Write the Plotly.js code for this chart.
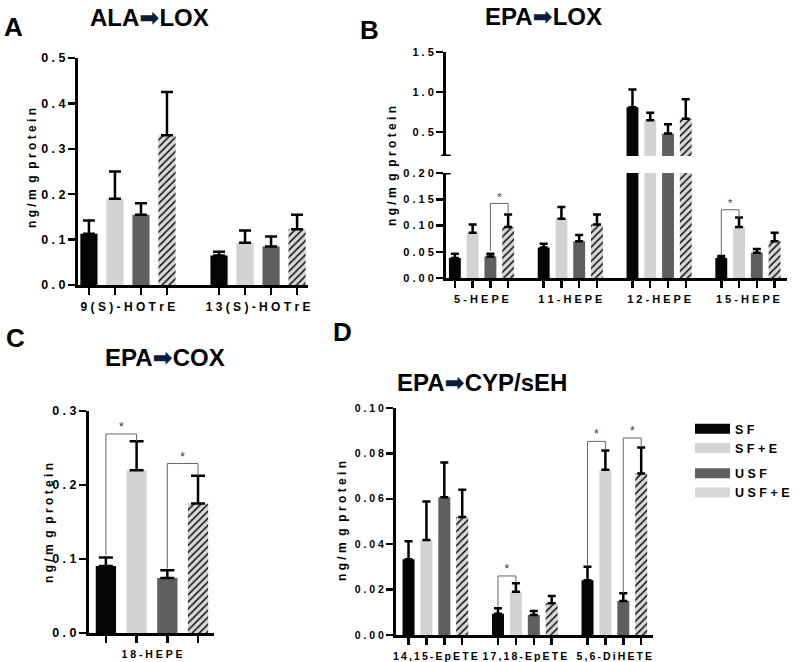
<!DOCTYPE html>
<html><head><meta charset="utf-8">
<script src="https://cdn.plot.ly/plotly-3.0.1.min.js"></script>
<style>html,body{margin:0;padding:0;background:#fff}#chart{width:800px;height:662px}</style>
</head><body><div id="chart"></div>
<script>
// ---------- DATA ----------
const seriesNames = ['SF', 'SF+E', 'USF', 'USF+E'];

// Panel A: ALA -> LOX
const aCats = ['9(S)-HOTrE', '13(S)-HOTrE'];
const aSF = [0.113, 0.065],   aSFtop = [0.142, 0.073];
const aSFE = [0.190, 0.093],  aSFEtop = [0.250, 0.120];
const aUSF = [0.155, 0.085],  aUSFtop = [0.180, 0.107];
const aUSFE = [0.330, 0.123], aUSFEtop = [0.425, 0.155];
const aTickVals = [0, 0.1, 0.2, 0.3, 0.4, 0.5];
const aTickText = ['0.0', '0.1', '0.2', '0.3', '0.4', '0.5'];

// Panel B: EPA -> LOX (broken axis)
const bCats = ['5-HEPE', '11-HEPE', '12-HEPE', '15-HEPE'];
const bSF = [0.038, 0.058, 0.810, 0.038],   bSFtop = [0.046, 0.065, 1.030, 0.042];
const bSFE = [0.086, 0.113, 0.646, 0.097],  bSFEtop = [0.102, 0.135, 0.740, 0.115];
const bUSF = [0.041, 0.070, 0.480, 0.048],  bUSFtop = [0.046, 0.082, 0.596, 0.055];
const bUSFE = [0.097, 0.102, 0.667, 0.070], bUSFEtop = [0.121, 0.121, 0.908, 0.086];
const bLowTickVals = [0, 0.05, 0.10, 0.15, 0.20];
const bLowTickText = ['0.00', '0.05', '0.10', '0.15', '0.20'];
const bHighTickVals = [0.5, 1.0, 1.5];
const bHighTickText = ['0.5', '1.0', '1.5'];

// Panel C: EPA -> COX
const cCats = ['18-HEPE'];
const cSF = [0.0905], cSFtop = [0.102];
const cSFE = [0.220], cSFEtop = [0.259];
const cUSF = [0.0743], cUSFtop = [0.0847];
const cUSFE = [0.175], cUSFEtop = [0.2126];
const cTickVals = [0, 0.1, 0.2, 0.3];
const cTickText = ['0.0', '0.1', '0.2', '0.3'];

// Panel D: EPA -> CYP/sEH
const dCats = ['14,15-EpETE', '17,18-EpETE', '5,6-DiHETE'];
const dSF = [0.0334, 0.0094, 0.0241],   dSFtop = [0.0413, 0.0118, 0.0301];
const dSFE = [0.0419, 0.0191, 0.0728],  dSFEtop = [0.0588, 0.0228, 0.0813];
const dUSF = [0.0607, 0.0088, 0.0150],  dUSFtop = [0.0760, 0.0106, 0.0184];
const dUSFE = [0.0520, 0.0140, 0.0712], dUSFEtop = [0.0640, 0.0172, 0.0826];
const dTickVals = [0, 0.02, 0.04, 0.06, 0.08, 0.10];
const dTickText = ['0.00', '0.02', '0.04', '0.06', '0.08', '0.10'];

// Significance brackets: group index, from series, to series, bracket top, left end, right end
const bSigGroup = [0, 3], bSigFrom = [2, 0], bSigTo = [3, 1];
const bSigTop = [0.142, 0.130], bSigLeft = [0.052, 0.044], bSigRight = [0.121, 0.115];
const cSigGroup = [0, 0], cSigFrom = [0, 2], cSigTo = [1, 3];
const cSigTop = [0.269, 0.229], cSigLeft = [0.105, 0.087], cSigRight = [0.259, 0.2126];
const dSigGroup = [1, 2, 2], dSigFrom = [0, 0, 2], dSigTo = [1, 1, 3];
const dSigTop = [0.026, 0.0853, 0.0868], dSigLeft = [0.0125, 0.0302, 0.0185], dSigRight = [0.0228, 0.0813, 0.0826];

// ---------- STYLE ----------
const FONT = 'Liberation Sans, Arial, Helvetica, sans-serif';
const colors = ['#050505', '#d3d3d3', '#5f5f5f', '#d8d8d8'];
const W = 800, H = 662;
const px = v => v / W;
const py = v => 1 - v / H;
const NB = '\u00a0';
const spaced = (s, sep) => s.split('').join(sep === undefined ? ' ' : sep);
const GROUP_STEP = 5;

const traces = [];
const layout = {
  width: W, height: H,
  margin: {l: 0, r: 0, t: 0, b: 0},
  paper_bgcolor: '#fff', plot_bgcolor: 'rgba(0,0,0,0)',
  barmode: 'overlay',
  showlegend: true,
  font: {family: FONT, color: '#000'},
  annotations: [], shapes: [],
  legend: {
    x: px(690), y: py(414), xanchor: 'left', yanchor: 'top',
    font: {family: FONT, size: 12.5, weight: 'bold', color: '#000'},
    tracegroupgap: 6, traceorder: 'grouped', bgcolor: 'rgba(0,0,0,0)',
    itemwidth: 35
  }
};

function xAxisCfg(domain, range, anchor, cats, nSeries, labelSize, sep) {
  const centers = cats.map((c, g) => g * GROUP_STEP + (nSeries - 1) / 2);
  const minorVals = [];
  cats.forEach((c, g) => { for (let s = 0; s < nSeries; s++) minorVals.push(g * GROUP_STEP + s); });
  return {
    domain: domain, range: range, anchor: anchor,
    showline: true, linewidth: 3, linecolor: '#000',
    showgrid: false, zeroline: false, fixedrange: true,
    tickmode: 'array', tickvals: centers, ticktext: cats.map(c => spaced(c, sep)),
    ticks: '', ticklabelstandoff: 9,
    tickfont: {family: FONT, size: labelSize, weight: 'bold', color: '#000'},
    minor: {tickmode: 'array', tickvals: minorVals, ticks: 'outside', ticklen: 7, tickwidth: 2.5, tickcolor: '#000', showgrid: false}
  };
}
function yAxisCfg(domain, range, anchor, vals, text, size) {
  return {
    domain: domain, range: range, anchor: anchor,
    showline: true, linewidth: 3, linecolor: '#000',
    showgrid: false, zeroline: false, fixedrange: true,
    tickmode: 'array', tickvals: vals, ticktext: text.map(t => spaced(t)),
    ticks: 'outside', ticklen: 7, tickwidth: 2.5, tickcolor: '#000',
    tickfont: {family: FONT, size: size, weight: 'bold', color: '#000'}
  };
}

function addBars(cats, vals, tops, xa, yas, bw, cap, hatch) {
  for (let s = 0; s < 4; s++) {
    yas.forEach(ya => {
      const marker = {color: colors[s], line: {width: 0}};
      if (s === 3) marker.pattern = {shape: '/', bgcolor: colors[3], fgcolor: '#111', size: hatch, solidity: 0.3};
      traces.push({
        type: 'bar', name: seriesNames[s], showlegend: false, hoverinfo: 'skip',
        x: cats.map((c, g) => g * GROUP_STEP + s), y: vals[s], width: bw,
        xaxis: xa, yaxis: ya, marker: marker,
        error_y: {type: 'data', symmetric: false,
          array: vals[s].map((v, i) => tops[s][i] - v), arrayminus: vals[s].map(() => 0),
          color: '#000', thickness: 2.5, width: cap}
      });
    });
  }
}
function addSig(groups, from, to, top, left, right, xa, ya, starSize) {
  groups.forEach((g, i) => {
    const xl = g * GROUP_STEP + from[i], xr = g * GROUP_STEP + to[i];
    traces.push({type: 'scatter', mode: 'lines', showlegend: false, hoverinfo: 'skip',
      x: [xl, xl, xr, xr], y: [left[i], top[i], top[i], right[i]],
      line: {color: '#666', width: 1}, xaxis: xa, yaxis: ya, cliponaxis: false});
    traces.push({type: 'scatter', mode: 'text', showlegend: false, hoverinfo: 'skip',
      x: [(xl + xr) / 2], y: [top[i]], text: ['*'], textposition: 'top center',
      textfont: {family: FONT, size: starSize, color: '#333'}, xaxis: xa, yaxis: ya, cliponaxis: false});
  });
}

// Panel A
layout.xaxis = xAxisCfg([px(78), px(308)], [-0.42, 8.42], 'y', aCats, 4, 12, ' ');
layout.yaxis = yAxisCfg([py(285), py(58)], [0, 0.5], 'x', aTickVals, aTickText, 12.5);
addBars(aCats, [aSF, aSFE, aUSF, aUSFE], [aSFtop, aSFEtop, aUSFtop, aUSFEtop], 'x', ['y'], 0.66, 6, 5);

// Panel B
layout.xaxis2 = xAxisCfg([px(446), px(787)], [-0.5, 18.7], 'y2', bCats, 4, 11, ' ');
layout.yaxis2 = yAxisCfg([py(278), py(173)], [0, 0.2], 'x2', bLowTickVals, bLowTickText, 11);
layout.yaxis3 = yAxisCfg([py(156), py(52)], [0.2, 1.5], 'x2', bHighTickVals, bHighTickText, 11);
addBars(bCats, [bSF, bSFE, bUSF, bUSFE], [bSFtop, bSFEtop, bUSFtop, bUSFEtop], 'x2', ['y2', 'y3'], 0.67, 4, 5);
addSig(bSigGroup, bSigFrom, bSigTo, bSigTop, bSigLeft, bSigRight, 'x2', 'y2', 11);
// axis break marks
layout.shapes.push({type: 'line', xref: 'x2 domain', yref: 'y3', x0: -0.014, x1: 0.014, y0: 0.2, y1: 0.2, line: {color: '#000', width: 3}});
layout.shapes.push({type: 'line', xref: 'x2 domain', yref: 'y2', x0: -0.014, x1: 0.014, y0: 0.2, y1: 0.2, line: {color: '#000', width: 3}});

// Panel C
layout.xaxis3 = xAxisCfg([px(89), px(214)], [-0.55, 3.52], 'y4', cCats, 4, 10.5, ' ');
layout.yaxis4 = yAxisCfg([py(633), py(411)], [0, 0.3], 'x3', cTickVals, cTickText, 12.5);
addBars(cCats, [cSF, cSFE, cUSF, cUSFE], [cSFtop, cSFEtop, cUSFtop, cUSFEtop], 'x3', ['y4'], 0.66, 7, 5);
addSig(cSigGroup, cSigFrom, cSigTo, cSigTop, cSigLeft, cSigRight, 'x3', 'y4', 12);

// Panel D
layout.xaxis4 = xAxisCfg([px(396), px(653)], [-0.7, 13.66], 'y5', dCats, 4, 10.5, '\u2009');
layout.yaxis5 = yAxisCfg([py(635), py(408)], [0, 0.1], 'x4', dTickVals, dTickText, 10.5);
addBars(dCats, [dSF, dSFE, dUSF, dUSFE], [dSFtop, dSFEtop, dUSFtop, dUSFEtop], 'x4', ['y5'], 0.67, 4, 5);
addSig(dSigGroup, dSigFrom, dSigTo, dSigTop, dSigLeft, dSigRight, 'x4', 'y5', 12);

// Legend entries (swatches)
seriesNames.forEach((n, s) => {
  traces.push({type: 'scatter', mode: 'lines', x: [null], y: [null], xaxis: 'x4', yaxis: 'y5',
    name: spaced(n), legendgroup: s < 2 ? 'g1' : 'g2', showlegend: true, hoverinfo: 'skip',
    line: {color: colors[s], width: 10}});
});

// Annotations: panel letters, titles, y-axis titles
function ann(text, x, y, size, extra) {
  layout.annotations.push(Object.assign({text: text, x: px(x), y: py(y), xref: 'paper', yref: 'paper',
    showarrow: false, xanchor: 'center', yanchor: 'middle',
    font: {family: FONT, size: size, weight: 'bold', color: '#000'}}, extra || {}));
}
const ARROW = '<span style="color:#0b1d3a;font-family:DejaVu Sans">\u27a1</span>';
ann('A', 13, 27, 26);
ann('B', 369, 30, 26);
ann('C', 15, 338, 26);
ann('D', 342, 332, 26);
ann('ALA' + ARROW + 'LOX', 149, 18, 24);
ann('EPA' + ARROW + 'LOX', 543, 17, 24);
ann('EPA' + ARROW + 'COX', 165, 358, 24);
ann('EPA' + ARROW + 'CYP/sEH', 482, 383, 24);
const yTitle = 'n g / m' + NB + NB + 'g' + NB + NB + 'p r o t e i n';
ann(yTitle, 32, 168, 12, {textangle: -90});
ann(yTitle, 392, 166, 12, {textangle: -90});
ann(yTitle, 49, 523, 12, {textangle: -90});
ann(yTitle, 342, 521, 12, {textangle: -90});

Plotly.newPlot('chart', traces, layout, {displayModeBar: false, staticPlot: true});
</script></body></html>
